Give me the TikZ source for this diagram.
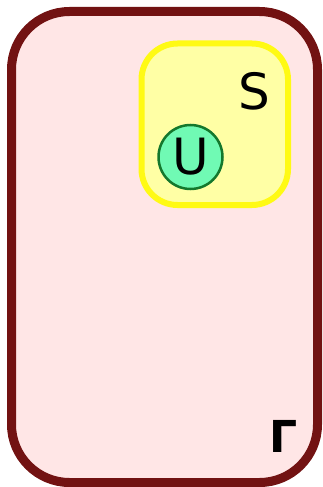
\documentclass[tikz,border=0pt]{standalone}
\usepackage{fontspec}
\setmainfont{DejaVu Sans}
\definecolor{outerdraw}{RGB}{114,18,18}
\definecolor{outerfill}{RGB}{255,230,230}
\definecolor{yeldraw}{RGB}{255,250,20}
\definecolor{yelfill}{RGB}{255,255,165}
\definecolor{grfill}{RGB}{112,250,180}
\definecolor{grdraw}{RGB}{20,120,45}
\begin{document}
\begin{tikzpicture}[x=1pt,y=-1pt,
  outerbox/.style={draw=outerdraw,fill=outerfill,line width=9pt,rounded corners=58pt},
  setbox/.style={draw=yeldraw,fill=yelfill,line width=6pt,rounded corners=36pt},
  elem/.style={circle,draw=grdraw,fill=grfill,line width=2.5pt,minimum size=64pt,inner sep=0pt,font=\fontsize{50}{50}\selectfont},
  lbl/.style={inner sep=0pt,font=\fontsize{50}{50}\selectfont}]
\useasboundingbox (0,0) rectangle (323,487);
\draw[outerbox] (11.5,11.5) rectangle (317.5,482.5);
\draw[setbox] (141.5,43.5) rectangle (288,205);
\node[elem] (U) at (190.5,157) {U};
\node[lbl,anchor=base] (S) at (254.5,109) {S};
\node[inner sep=0pt,anchor=base,font=\bfseries\fontsize{44}{44}\selectfont] (G) at (284,452) {Γ};
\end{tikzpicture}
\end{document}
